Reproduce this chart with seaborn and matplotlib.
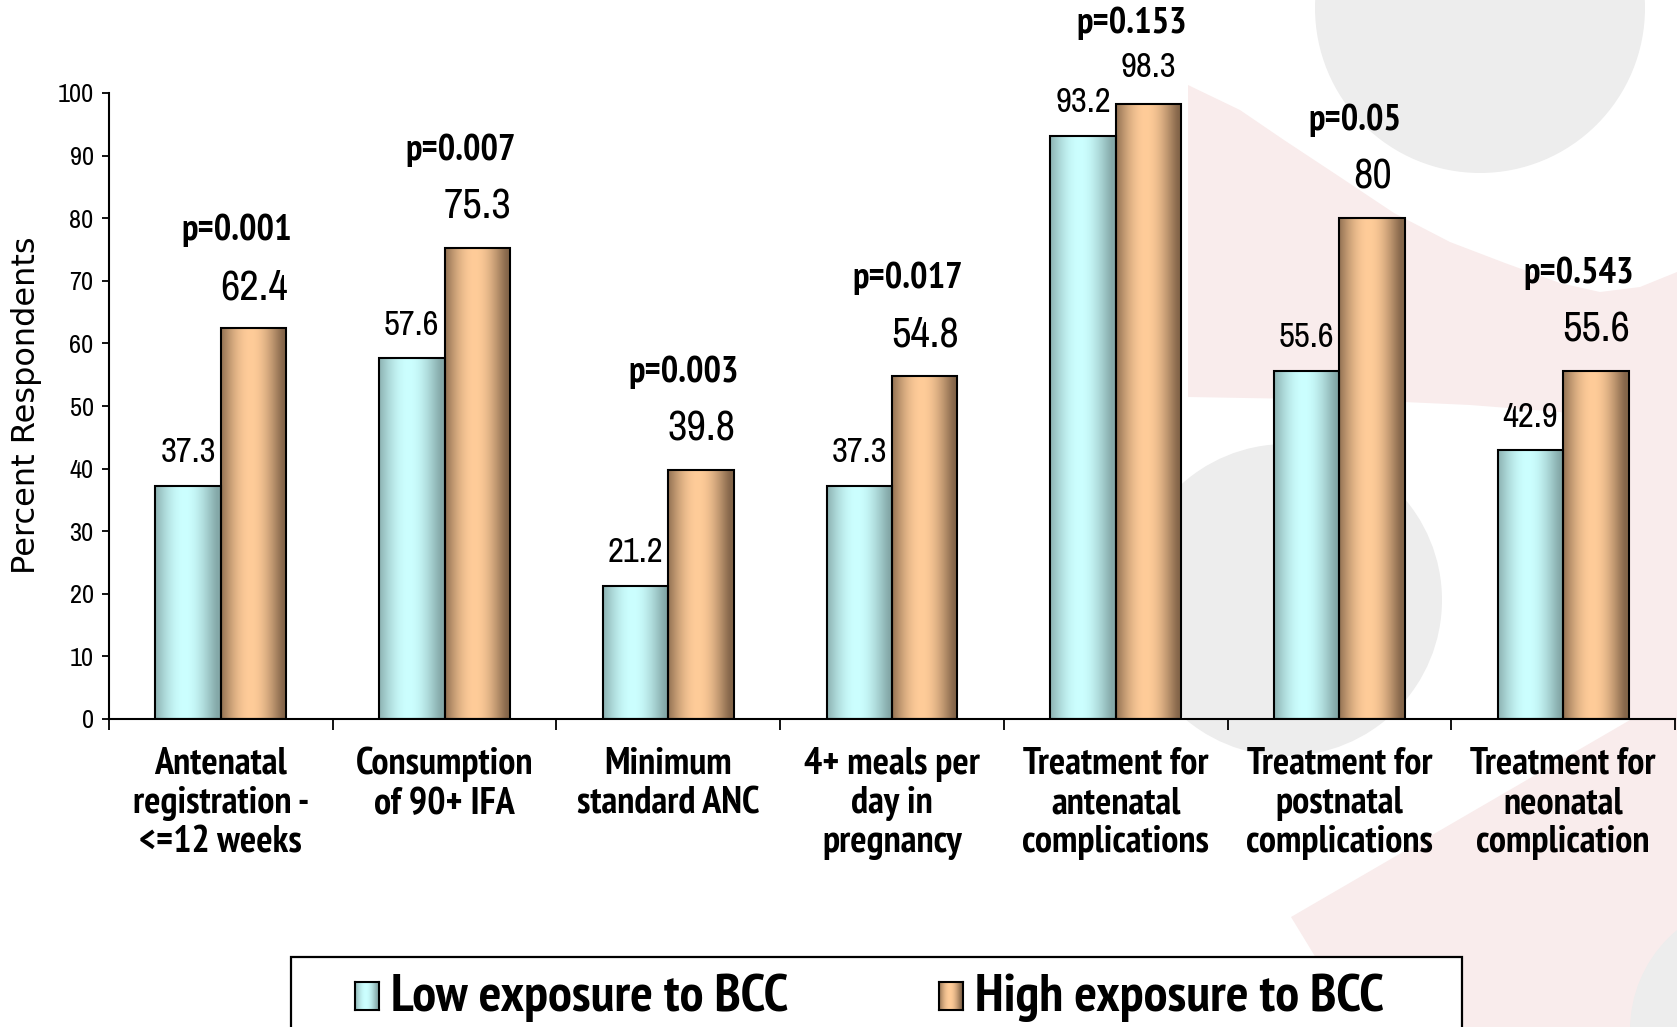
import numpy as np
import pandas as pd
import matplotlib
matplotlib.use("Agg")
import matplotlib.pyplot as plt
from matplotlib import font_manager as fm
from matplotlib.patches import Polygon, Circle, Rectangle
from matplotlib.transforms import Affine2D
import seaborn as sns

# ---- data -------------------------------------------------------------
categories = [
    "Antenatal\nregistration -\n<=12 weeks",
    "Consumption\nof 90+ IFA",
    "Minimum\nstandard ANC",
    "4+ meals per\nday in\npregnancy",
    "Treatment for\nantenatal\ncomplications",
    "Treatment for\npostnatal\ncomplications",
    "Treatment for\nneonatal\ncomplication",
]
low_exposure = [37.3, 57.6, 21.2, 37.3, 93.2, 55.6, 42.9]
high_exposure = [62.4, 75.3, 39.8, 54.8, 98.3, 80, 55.6]
p_values = ["p=0.001", "p=0.007", "p=0.003", "p=0.017", "p=0.153", "p=0.05", "p=0.543"]
series_names = ["Low exposure to BCC", "High exposure to BCC"]
y_ticks = [0, 10, 20, 30, 40, 50, 60, 70, 80, 90, 100]

# ---- style ------------------------------------------------------------
sns.set_style("white")
plt.rcParams["font.family"] = ["Liberation Sans", "DejaVu Sans"]
for key in ("text.color", "axes.labelcolor", "xtick.color", "ytick.color"):
    plt.rcParams[key] = "black"


def narrow_font_files():
    """Return (regular, bold) file paths of a narrow sans face, if any."""
    found = {}
    for f in fm.fontManager.ttflist:
        n = f.name.lower()
        if ("narrow" in n) and "mono" not in n and "serif" not in n and f.style == "normal":
            w = 700 if (f.weight in ("bold", 700) or (isinstance(f.weight, int) and f.weight >= 600)) else 400
            found.setdefault(w, f.fname)
    if 400 in found and 700 in found:
        return found[400], found[700]
    return None


narrow = narrow_font_files()
if narrow:
    REG = lambda s: fm.FontProperties(fname=narrow[0], size=s)
    BOLD = lambda s: fm.FontProperties(fname=narrow[1], size=s)
    SZ = dict(tick=19, small=25, big=30.5, p=26.5, cat=27.5, legend=38.5)
else:
    REG = lambda s: fm.FontProperties(family="Liberation Sans", size=s)
    BOLD = lambda s: fm.FontProperties(family="Liberation Sans", weight="bold", size=s)
    SZ = dict(tick=16.5, small=21, big=25, p=22.5, cat=21.5, legend=29)

W, H = 1677, 1027
fig = plt.figure(figsize=(W / 100, H / 100), dpi=100, facecolor="white")
px = Affine2D().scale(1 / W, -1 / H).translate(0, 1) + fig.transFigure

# faint logo artwork behind the chart
PINK = "#f9ecec"
GREY = "#ededed"
pink_pts = [(1188, 85), (1240, 110), (1284, 140), (1340, 177), (1394, 213),
            (1450, 242), (1505, 263), (1560, 283), (1600, 292), (1640, 287),
            (1677, 272), (1677, 1027), (1358, 1027), (1291, 917), (1630, 720),
            (1630, 430), (1560, 412), (1470, 405), (1360, 400), (1188, 397)]
fig.add_artist(Polygon(pink_pts, closed=True, transform=px, facecolor=PINK,
                       edgecolor="none", zorder=-3))
for (cx, cy, r) in [(1480, 8, 165), (1286, 600, 156), (1760, 1030, 130)]:
    fig.add_artist(Circle((cx, cy), r, transform=px, facecolor=GREY,
                          edgecolor="none", zorder=-2))

ax = fig.add_axes([109 / W, 1 - 719 / H, (1675 - 109) / W, (719 - 93) / H])
ax.set_facecolor("none")

df = pd.DataFrame({
    "category": categories * 2,
    "value": low_exposure + high_exposure,
    "exposure": [series_names[0]] * len(categories) + [series_names[1]] * len(categories),
})

LOW_DARK, LOW_LIGHT = np.array([0.52, 0.66, 0.66]), np.array([0.80, 1.00, 1.00])
HIGH_DARK, HIGH_LIGHT = np.array([0.52, 0.40, 0.29]), np.array([1.00, 0.80, 0.60])

sns.barplot(data=df, x="category", y="value", hue="exposure",
            palette=["#c8ffff", "#ffcc99"], width=0.585, dodge=True,
            edgecolor="black", linewidth=1.5, legend=False, ax=ax)


def gradient(dark, light, n=256):
    t = np.linspace(0, 1, n)
    w = np.clip(1 - ((t - 0.45) / 0.5) ** 2, 0, 1) ** 1.3
    rgb = dark[None, :] * (1 - w[:, None]) + light[None, :] * w[:, None]
    return rgb[None, :, :]


grads = [gradient(LOW_DARK, LOW_LIGHT), gradient(HIGH_DARK, HIGH_LIGHT)]
for cont, g in zip(ax.containers, grads):
    for bar in cont:
        x0, y0 = bar.get_xy()
        w, h = bar.get_width(), bar.get_height()
        im = ax.imshow(g, extent=[x0, x0 + w, y0, y0 + h], aspect="auto",
                       interpolation="bilinear", zorder=1.5)
        im.set_clip_path(bar)
        bar.set_facecolor("none")
        bar.set_zorder(2)

ax.set_xlim(-0.5, len(categories) - 0.5)
ax.set_ylim(0, 100)
ax.set_aspect("auto")

# axes, ticks
sns.despine(ax=ax, top=True, right=True)
for s in ("left", "bottom"):
    ax.spines[s].set_linewidth(1.5)
    ax.spines[s].set_color("black")
ax.set_yticks(y_ticks)
ax.set_yticklabels([str(v) for v in y_ticks], fontproperties=REG(SZ["tick"]))
ax.tick_params(axis="y", direction="out", length=5, width=1.3, pad=6, left=True)
ax.set_xticks(range(len(categories)))
ax.set_xticklabels(categories, fontproperties=BOLD(SZ["cat"]), linespacing=1.16)
ax.set_xticks(np.arange(-0.5, len(categories)), minor=True)
ax.tick_params(axis="x", which="major", length=0, pad=20)
ax.tick_params(axis="x", which="minor", direction="out", length=8, width=1.3, bottom=True)
ax.set_xlabel("")
ax.set_ylabel("")

fig.text(27 / W, 1 - 405 / H, "Percent Respondents", rotation=90, ha="center",
         va="center", fontsize=23, family="DejaVu Sans")

# value and significance labels
off = 0.585 / 4
for i, (lo, hi, p) in enumerate(zip(low_exposure, high_exposure, p_values)):
    ax.text(i - off, lo + 5.4, f"{lo:g}", ha="center", va="center",
            fontproperties=REG(SZ["small"]))
    big = hi < 95
    ax.text(i + off, hi + (6.6 if big else 5.9), f"{hi:g}", ha="center", va="center",
            fontproperties=REG(SZ["big"] if big else SZ["small"]))
    ax.text(i + 0.07, hi + (15.6 if big else 12.8), p, ha="center", va="center",
            fontproperties=BOLD(SZ["p"]))

# legend box
fig.add_artist(Rectangle((291, 957), 1462 - 291, 100, transform=px, facecolor="white",
                         edgecolor="black", linewidth=1.6, zorder=5))
for (mx, tx), name, g in zip([(355, 391), (939, 975)], series_names, grads):
    max_ = fig.add_axes([mx / W, 1 - 1010 / H, 24 / W, 28 / H], zorder=6)
    max_.imshow(g, aspect="auto", interpolation="bilinear")
    max_.set_xticks([])
    max_.set_yticks([])
    for s in max_.spines.values():
        s.set_linewidth(1.5)
        s.set_color("black")
    fig.text(tx / W, 1 - 1011 / H, name, ha="left", va="baseline",
             fontproperties=BOLD(SZ["legend"]), zorder=7)

fig.savefig("out.png", dpi=100, facecolor="white")
